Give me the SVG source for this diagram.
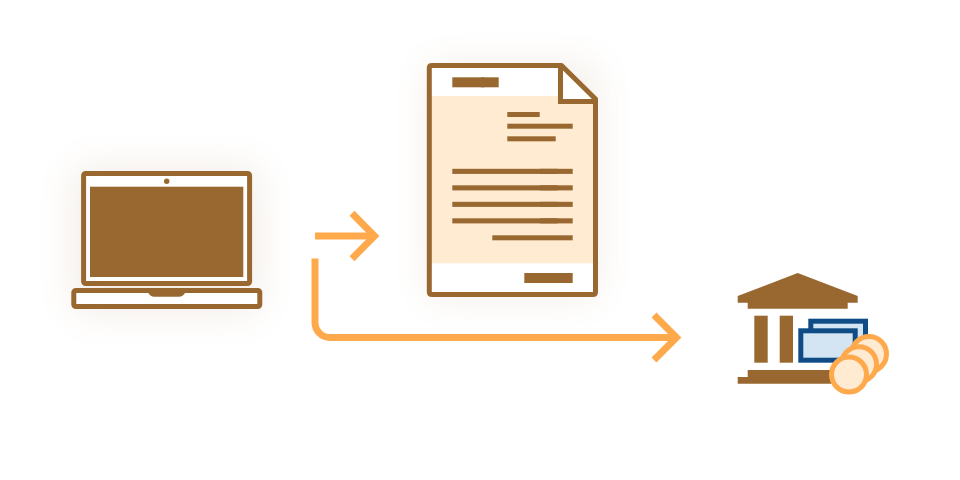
<svg xmlns="http://www.w3.org/2000/svg" width="960" height="480" viewBox="0 0 960 480">
<style>
.b{fill:#996830}
.o{fill:#fff;stroke:#996830;stroke-width:5;stroke-linejoin:round}
.glow{fill:#996830;opacity:.13;filter:url(#blur)}
.arrow{fill:none;stroke:#ffa94d;stroke-width:7;stroke-linejoin:miter}
.coin{fill:#ffead2;stroke:#ffa94d;stroke-width:5}
.note{fill:#d3e5f3;stroke:#0f4c86;stroke-width:5}
</style>
<defs>
<filter id="blur" x="-60%" y="-60%" width="220%" height="220%"><feGaussianBlur stdDeviation="20"/></filter>
</defs>
<rect width="960" height="480" fill="#fff"/>
<g id="laptop">
<rect class="glow" x="76" y="170" width="180" height="140"/>
<rect class="o" x="83.600" y="173.500" width="166" height="110" rx="2"/>
<rect class="b" x="90" y="186.700" width="153.300" height="90.300"/>
<circle class="b" cx="166.700" cy="181.300" r="2.700"/>
<rect class="o" x="73.800" y="290.500" width="186" height="16" rx="2"/>
<path class="b" d="M148.300 293H185Q183 296.700 179 296.700H154.300Q150.300 296.700 148.300 293Z"/>
</g>
<g id="document">
<rect class="glow" x="432" y="68" width="162" height="226"/>
<path d="M429.300 68Q429.300 65.500 432 65.500H561.500L595.500 99V292Q595.500 294.500 593 294.500H432Q429.300 294.500 429.300 292Z" fill="#fff"/>
<path d="M431 96H558V101.500H594V263.300H431Z" fill="#ffead2"/>
<path d="M560.500 65.500V101.500H595.500" fill="none" stroke="#996830" stroke-width="5"/>
<path d="M429.300 68Q429.300 65.500 432 65.500H561.500L595.500 99V292Q595.500 294.500 593 294.500H432Q429.300 294.500 429.300 292Z" fill="none" stroke="#996830" stroke-width="5" stroke-linejoin="round"/>
<g class="b">
<rect x="452.300" y="77.300" width="32" height="10"/><rect x="481.300" y="77.300" width="17.400" height="10"/>
<rect x="507.300" y="112" width="32.400" height="5"/>
<rect x="507.300" y="123.700" width="65.400" height="5"/>
<rect x="507.300" y="136.300" width="48.400" height="5"/>
<rect x="452.300" y="168.800" width="105.400" height="5.100"/><rect x="540" y="168.800" width="32.700" height="5.100"/>
<rect x="452.300" y="185.300" width="105.400" height="5.100"/><rect x="540" y="185.300" width="32.700" height="5.100"/>
<rect x="452.300" y="201.800" width="105.400" height="5.100"/><rect x="540" y="201.800" width="32.700" height="5.100"/>
<rect x="452.300" y="218.300" width="105.400" height="5.100"/><rect x="540" y="218.300" width="32.700" height="5.100"/>
<rect x="492.300" y="235.300" width="80.400" height="5"/>
<rect x="524.300" y="273" width="48.400" height="10"/>
</g>
</g>
<g id="bank">
<path class="b" d="M797.700 273L857.700 296V302.700H847.700V308.700H747.700V302.700H737.700V296Z"/>
<rect class="b" x="754.300" y="315.700" width="13.400" height="47"/>
<rect class="b" x="779.700" y="315.700" width="13.300" height="47"/>
<path class="b" d="M747.700 370H840V383.700H737.700V377H747.700Z"/>
<rect class="note" x="810.800" y="321.200" width="54.700" height="30"/>
<rect class="note" x="800.800" y="330.800" width="54.400" height="29.400"/>
<circle class="coin" cx="869" cy="354" r="17.500"/>
<circle class="coin" cx="859" cy="364.200" r="17.500"/>
<circle class="coin" cx="849" cy="374.500" r="17.500"/>
</g>
<g id="connectors">
<path class="arrow" d="M315 236H374"/>
<path class="arrow" d="M352 213.300L374.500 236L352 258.700"/>
<path class="arrow" d="M315 258.500V322.500A15 15 0 0 0 330 337.500H676"/>
<path class="arrow" d="M654 315L676.500 337.500L654 360"/>
</g>
</svg>
